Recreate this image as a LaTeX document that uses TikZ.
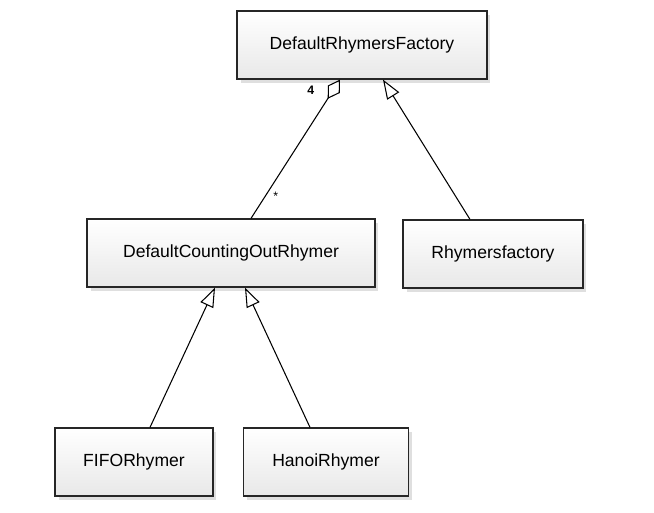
\documentclass[tikz,border=0pt]{standalone}
\usepackage{fontspec}
\setmainfont{Liberation Sans}
\usetikzlibrary{arrows.meta,positioning,shadows}
\definecolor{boxfill}{RGB}{232,232,232}

\begin{document}
\begin{tikzpicture}[x=0.02cm,y=-0.02cm,font=\fontsize{10}{12}\selectfont,
    cls/.style={draw=black!85,line width=0.7pt,minimum height=1.36cm,
      top color=white,bottom color=boxfill,
      drop shadow={shadow xshift=2pt,shadow yshift=-2pt,opacity=0.25}},
    gen/.style={-{Triangle[open,length=11pt,width=8pt]},line width=0.6pt},
    agg/.style={-{Diamond[open,length=13pt,width=8pt]},line width=0.6pt}]
    \useasboundingbox (0,0) rectangle (654,512);
    \node[cls,minimum width=5cm] (drf) at (362,45) {DefaultRhymersFactory};
    \node[cls,minimum width=5.76cm] (dcor) at (231,253) {DefaultCountingOutRhymer};
    \node[cls,minimum width=3.6cm] (rf) at (493,254) {Rhymersfactory};
    \node[cls,minimum width=3.16cm] (fifo) at (134,462) {FIFORhymer};
    \node[cls,minimum width=3.3cm] (hanoi) at (326,462) {HanoiRhymer};
    % aggregation and generalizations
    \draw[agg] ([xshift=0.4cm]dcor.north) -- ([xshift=-0.44cm]drf.south)
      node[pos=0.92,left=7pt,font=\scriptsize\bfseries] (mult4) {4}
      node[pos=0.16,right=1pt,font=\scriptsize] (multstar) {*};
    \draw[gen] ([xshift=-0.46cm]rf.north) -- ([xshift=0.42cm]drf.south);
    \draw[gen] ([xshift=0.32cm]fifo.north) -- ([xshift=-0.32cm]dcor.south);
    \draw[gen] ([xshift=-0.32cm]hanoi.north) -- ([xshift=0.28cm]dcor.south);
\end{tikzpicture}
\end{document}
